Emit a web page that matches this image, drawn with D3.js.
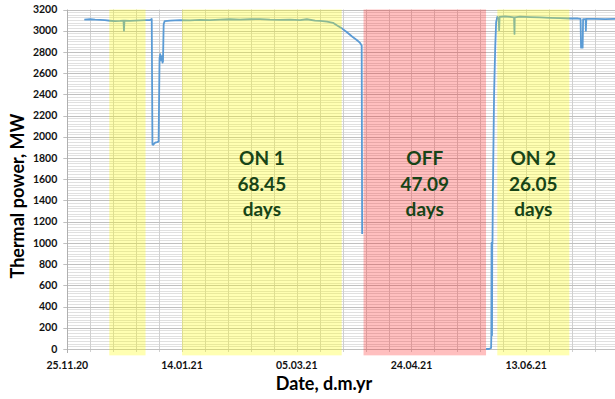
<!DOCTYPE html>
<html>
<head>
<meta charset="utf-8">
<script src="https://cdn.jsdelivr.net/npm/d3@7"></script>
<style>
  body { margin: 0; background: #fff; }
  text { font-family: Lato, "Open Sans", sans-serif; font-weight: bold; }
</style>
</head>
<body>
<script>
var W = 615, H = 399;
var margin = {top: 9.5, right: 0, bottom: 50, left: 67.3};

// days counted from 25.11.20
var startDate = new Date(Date.UTC(2020, 10, 25));
var lastDay = 238.7;

// thermal power [day, MW]; null value = no data (reactor off)
var powerData = [
  [7.4, 3105], [9.9, 3108], [12.1, 3104], [14.3, 3102], [16.4, 3099], [18.6, 3094],
  [20.8, 3090], [23.0, 3092], [24.5, 3095], [24.7, 3000], [24.9, 3095], [27.3, 3092],
  [29.5, 3095], [31.7, 3097], [33.9, 3099], [36.1, 3100], [36.8, 3110],
  [37.1, 1930], [37.4, 1925], [38.3, 1945], [39.1, 1950], [39.8, 1955],
  [40.2, 2740], [40.5, 2780], [40.8, 2720], [41.2, 2760], [41.5, 2700], [41.7, 2710],
  [42.0, 3060], [42.4, 3090], [44.8, 3095], [49.1, 3100], [53.5, 3097], [57.8, 3102],
  [62.2, 3100], [66.6, 3105], [70.9, 3108], [75.3, 3104], [79.6, 3108], [84.0, 3110],
  [88.3, 3105], [92.7, 3103], [97.0, 3105], [101.4, 3100], [104.4, 3108], [108.0, 3095],
  [110.2, 3093], [113.2, 3085], [115.8, 3075], [117.6, 3050], [119.8, 3020],
  [121.9, 2985], [124.1, 2945], [126.3, 2910], [127.6, 2885], [128.3, 2860], [128.5, 1085],
  [155.0, null],
  [182.5, 0], [183.8, 0], [184.7, 10], [184.8, 120], [184.9, 1000], [185.1, 130],
  [185.2, 1000], [185.3, 990],
  [185.5, 1500], [185.7, 1880], [186.0, 2400], [186.5, 2850], [186.9, 3080], [187.4, 3130],
  [188.0, 3120], [188.2, 3005], [188.4, 3130], [190.8, 3135], [193.0, 3130], [194.7, 3125],
  [194.9, 2970], [195.0, 3125], [197.3, 3132], [201.7, 3128], [206.0, 3125], [210.4, 3122],
  [214.8, 3118], [219.1, 3115], [222.6, 3115], [223.7, 3112], [223.9, 2840], [224.6, 2840],
  [224.8, 3110], [225.9, 3110], [226.0, 3000], [226.2, 3112], [230.0, 3112], [234.4, 3110],
  [238.7, 3112]
];

// shaded periods [startDay, endDay]
var onBands = [[18.3, 34.1], [50.0, 119.6], [187.4, 218.8]];
var offBands = [[129.1, 182.5]];

// period labels [centerDay, lines]
var periodLabels = [
  [84.8, ["ON 1", "68.45", "days"]],
  [155.8, ["OFF", "47.09", "days"]],
  [203.1, ["ON 2", "26.05", "days"]]
];

var yTicks = d3.range(0, 3201, 200);
var yMinor = d3.range(0, 3201, 25);
var xLabelDays = [0, 50, 100, 150, 200];
var xGridDays = d3.range(0, 239, 10);

function dayToDate(d) { return new Date(startDate.getTime() + d * 864e5); }

var svg = d3.select("body").append("svg")
  .attr("width", W).attr("height", H);

var x = d3.scaleUtc()
  .domain([startDate, dayToDate(lastDay)])
  .range([margin.left, W - margin.right]);
var y = d3.scaleLinear()
  .domain([0, 3200])
  .range([H - margin.bottom, margin.top]);

/* gridlines */
svg.append("g").selectAll("line")
  .data(yMinor.filter(function(v) { return v % 200 != 0; }))
  .enter().append("line")
  .attr("x1", margin.left).attr("x2", W)
  .attr("y1", function(d) { return Math.round(y(d)) + 0.5; })
  .attr("y2", function(d) { return Math.round(y(d)) + 0.5; })
  .attr("stroke", "#e0e0e0").attr("stroke-width", 1);

svg.append("g").selectAll("line")
  .data(xGridDays.slice(1))
  .enter().append("line")
  .attr("x1", function(d) { return Math.round(x(dayToDate(d))) + 0.5; })
  .attr("x2", function(d) { return Math.round(x(dayToDate(d))) + 0.5; })
  .attr("y1", y(3200)).attr("y2", y(0) + 3)
  .attr("stroke", "#d0d0d0").attr("stroke-width", 1);

svg.append("g").selectAll("line")
  .data(yTicks)
  .enter().append("line")
  .attr("x1", margin.left - 4).attr("x2", W)
  .attr("y1", function(d) { return Math.round(y(d)) + 0.5; })
  .attr("y2", function(d) { return Math.round(y(d)) + 0.5; })
  .attr("stroke", "#c0c0c0").attr("stroke-width", 1);

/* y axis line */
svg.append("line")
  .attr("x1", Math.round(margin.left) + 0.5).attr("x2", Math.round(margin.left) + 0.5)
  .attr("y1", y(3200)).attr("y2", y(0) + 4)
  .attr("stroke", "#b0b0b0");

/* power line */
var line = d3.line()
  .defined(function(d) { return d[1] !== null; })
  .x(function(d) { return x(dayToDate(d[0])); })
  .y(function(d) { return y(d[1]); });

svg.append("path")
  .datum(powerData)
  .attr("d", line)
  .attr("fill", "none")
  .attr("stroke", "#5b9bd5")
  .attr("stroke-width", 1.8)
  .attr("stroke-linejoin", "round");

/* shaded periods over everything */
svg.append("g").selectAll("rect")
  .data(onBands)
  .enter().append("rect")
  .attr("x", function(d) { return x(dayToDate(d[0])); })
  .attr("width", function(d) { return x(dayToDate(d[1])) - x(dayToDate(d[0])); })
  .attr("y", y(3200))
  .attr("height", y(-60) - y(3200))
  .attr("fill", "#ffff00").attr("fill-opacity", 0.3);

svg.append("g").selectAll("rect")
  .data(offBands)
  .enter().append("rect")
  .attr("x", function(d) { return x(dayToDate(d[0])); })
  .attr("width", function(d) { return x(dayToDate(d[1])) - x(dayToDate(d[0])); })
  .attr("y", y(3200))
  .attr("height", y(-60) - y(3200))
  .attr("fill", "#ff0000").attr("fill-opacity", 0.25);

/* tick labels */
svg.append("g").selectAll("text")
  .data(yTicks)
  .enter().append("text")
  .attr("x", margin.left - 10)
  .attr("y", function(d) { return y(d); })
  .attr("dy", "0.35em")
  .attr("text-anchor", "end")
  .attr("font-size", 10.5)
  .attr("fill", "#111")
  .text(function(d) { return d; });

var fmt = d3.utcFormat("%d.%m.%y");
svg.append("g").selectAll("text")
  .data(xLabelDays)
  .enter().append("text")
  .attr("x", function(d) { return x(dayToDate(d)); })
  .attr("y", y(0) + 20)
  .attr("text-anchor", "middle")
  .attr("font-size", 10.5)
  .attr("fill", "#111")
  .text(function(d) { return fmt(dayToDate(d)); });

/* axis titles */
svg.append("text")
  .attr("x", 324).attr("y", 390)
  .attr("text-anchor", "middle")
  .attr("font-size", 18)
  .attr("fill", "#000")
  .text("Date, d.m.yr");

svg.append("text")
  .attr("transform", "translate(24," + 196 + ") rotate(-90)")
  .attr("text-anchor", "middle")
  .attr("font-size", 18)
  .attr("fill", "#000")
  .text("Thermal power, MW");

/* period labels */
var lineVals = [1800, 1555, 1320];
periodLabels.forEach(function(p) {
  svg.append("g").selectAll("text")
    .data(p[1])
    .enter().append("text")
    .attr("x", x(dayToDate(p[0])))
    .attr("y", function(d, i) { return y(lineVals[i]); })
    .attr("dy", "0.35em")
    .attr("text-anchor", "middle")
    .attr("font-size", 19)
    .attr("fill", "#174417")
    .text(function(d) { return d; });
});
</script>
</body>
</html>
